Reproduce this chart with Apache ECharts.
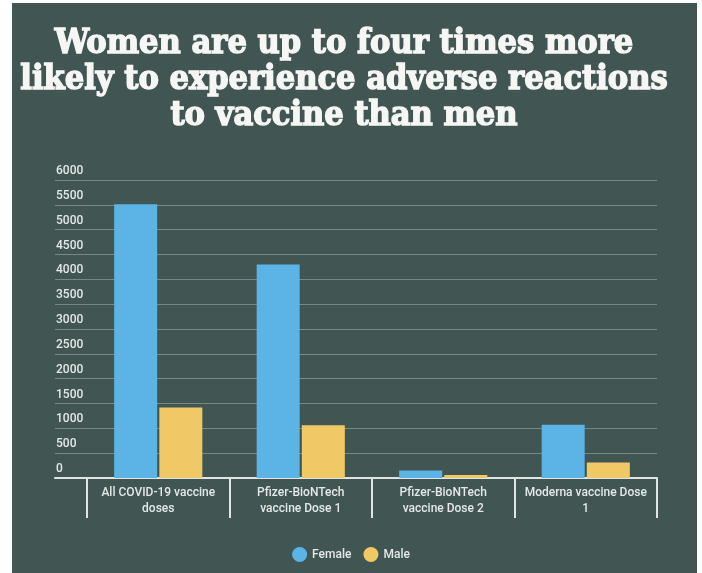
<!DOCTYPE html>
<html lang="en">
<head>
    <meta charset="UTF-8">
    <title>Adverse reactions by sex</title>
    <script type="text/javascript" src="https://cdn.jsdelivr.net/npm/echarts@6/dist/echarts.min.js"></script>
    <style>
        body { margin: 0; background: #ffffff; }
        #chart { width: 702px; height: 573px; }
    </style>
</head>
<body>
<div id="chart"></div>
<script type="text/javascript">
    // data
    var categories = ['All COVID-19 vaccine\ndoses', 'Pfizer-BioNTech\nvaccine Dose 1', 'Pfizer-BioNTech\nvaccine Dose 2', 'Moderna vaccine Dose\n1'];
    var female = [5510, 4300, 150, 1070];
    var male = [1420, 1060, 60, 310];
    var seriesNames = ['Female', 'Male'];
    var titleLines = ['Women are up to four times more', 'likely to experience adverse reactions', 'to vaccine than men'];

    var bg = '#415652';
    var labelColor = '#e4e8e6';
    var chart = echarts.init(document.getElementById('chart'));

    var option = {
        backgroundColor: 'transparent',
        textStyle: { fontFamily: 'Roboto' },
        graphic: [
            { type: 'rect', z: -10, shape: { x: 12, y: 3, width: 685, height: 570 }, style: { fill: bg } },
            {
                type: 'text', x: 344, y: 26, z: 10,
                style: {
                    text: titleLines.join('\n'),
                    align: 'center',
                    fill: '#f6f6f4',
                    stroke: '#f6f6f4',
                    lineWidth: 1.4,
                    font: '900 34px "DejaVu Serif Condensed", "DejaVu Serif"',
                    lineHeight: 36
                }
            }
        ],
        legend: {
            data: seriesNames,
            left: 'center',
            top: 542,
            icon: 'circle',
            itemWidth: 15,
            itemHeight: 15,
            itemGap: 12,
            textStyle: { color: labelColor, fontSize: 12, fontWeight: 500 }
        },
        grid: [
            { left: 55, right: 45, top: 180, bottom: 95 },
            { left: 87, right: 45, top: 180, bottom: 95 }
        ],
        xAxis: [
            {
                type: 'category', gridIndex: 0, data: [''],
                axisLine: { lineStyle: { color: '#dfe5e3', width: 2 } },
                axisTick: { show: false }, axisLabel: { show: false }
            },
            {
                type: 'category', gridIndex: 1, data: categories,
                axisLine: { show: false },
                axisTick: { show: true, length: 40, lineStyle: { color: '#dfe5e3', width: 2 } },
                axisLabel: { color: labelColor, fontSize: 12, fontWeight: 500, margin: 7, lineHeight: 16, interval: 0 }
            }
        ],
        yAxis: [
            {
                type: 'value', gridIndex: 0, min: 0, max: 6000, interval: 500,
                axisLine: { show: false }, axisTick: { show: false },
                axisLabel: {
                    inside: true, color: labelColor, fontSize: 12, fontWeight: 500, margin: 1,
                    verticalAlign: 'bottom', padding: [0, 0, 3, 0],
                    formatter: function (v) { return String(v); }
                },
                splitLine: { lineStyle: { color: 'rgba(220,230,228,0.35)', width: 1 } }
            },
            {
                type: 'value', gridIndex: 1, min: 0, max: 6000, interval: 500,
                show: false, splitLine: { show: false }
            }
        ],
        series: [
            {
                name: seriesNames[0], type: 'bar', xAxisIndex: 1, yAxisIndex: 1,
                data: female, barWidth: 43, barGap: '5%',
                itemStyle: { color: '#5cb4e6' }
            },
            {
                name: seriesNames[1], type: 'bar', xAxisIndex: 1, yAxisIndex: 1,
                data: male, barWidth: 43, barGap: '5%',
                itemStyle: { color: '#f0c966' }
            }
        ]
    };
    chart.setOption(option);
</script>
</body>
</html>
